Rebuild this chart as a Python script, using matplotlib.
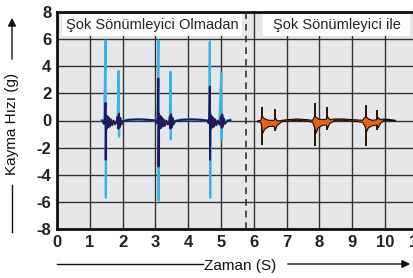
import matplotlib
matplotlib.use("Agg")
import matplotlib.pyplot as plt
from matplotlib.patches import Rectangle

FONT = ['Liberation Sans', 'DejaVu Sans']
plt.rcParams['font.family'] = FONT

# ---- data ----
x_ticks = [0, 1, 2, 3, 4, 5, 6, 7, 8, 9, 10, 11]
y_ticks = [-8, -6, -4, -2, 0, 2, 4, 6, 8]
panel_labels = ["Şok Sönümleyici Olmadan", "Şok Sönümleyici ile"]
x_label = "Zaman (S)"
y_label = "Kayma Hızı (g)"
divider_x = 5.76

# without shock absorber: light blue trace
light_t = [1.35, 1.44, 1.48, 1.49, 1.50, 1.60, 1.70, 1.85, 1.88, 1.89, 1.90, 2.10, 2.40, 2.80,
           3.00, 3.06, 3.09, 3.10, 3.11, 3.20, 3.35, 3.44, 3.46, 3.47, 3.48, 3.70, 4.00, 4.40,
           4.60, 4.64, 4.66, 4.67, 4.68, 4.80, 4.95, 5.01, 5.02, 5.03, 5.15, 5.30]
light_v = [0.0, -0.1, 5.9, -5.7, -0.3, -0.2, -0.15, -0.1, 3.65, -1.2, -0.1, 0.05, 0.1, 0.05,
           0.0, -0.1, 5.9, -5.9, -0.3, -0.25, -0.2, -0.1, 3.6, -1.4, -0.1, 0.05, 0.1, 0.05,
           0.0, -0.1, 5.8, -5.7, -0.3, -0.2, -0.15, 3.5, -1.4, -0.1, 0.0, 0.05]

# without shock absorber: dark navy trace
navy_t = [1.38, 1.43, 1.46, 1.48, 1.485, 1.50, 1.52, 1.54, 1.56, 1.58, 1.61, 1.64, 1.68, 1.72,
          1.77, 1.82, 1.85, 1.87, 1.89, 1.91, 1.93, 1.96, 2.00, 2.20, 2.50, 2.80,
          3.00, 3.04, 3.07, 3.09, 3.095, 3.11, 3.13, 3.15, 3.17, 3.19, 3.22, 3.25, 3.29, 3.33,
          3.38, 3.42, 3.44, 3.46, 3.48, 3.50, 3.52, 3.55, 3.60, 3.80, 4.10, 4.40,
          4.58, 4.62, 4.64, 4.66, 4.665, 4.68, 4.70, 4.72, 4.74, 4.76, 4.79, 4.82, 4.86, 4.90,
          4.95, 4.98, 5.00, 5.02, 5.04, 5.06, 5.08, 5.12, 5.20, 5.28]
navy_v = [0.0, -0.25, 0.15, 1.3, -2.9, 0.4, -0.6, 0.3, -0.5, 0.2, -0.45, 0.1, -0.35, 0.0,
          -0.3, -0.05, 0.3, -0.6, 0.5, -0.5, 0.2, -0.3, -0.05, 0.05, 0.08, 0.05,
          0.0, -0.2, 0.2, 3.1, -3.4, 0.5, -0.6, 0.35, -0.55, 0.25, -0.45, 0.1, -0.4, 0.0,
          -0.3, -0.05, 0.3, -0.6, 0.45, -0.5, 0.2, -0.3, -0.05, 0.05, 0.08, 0.05,
          0.0, -0.2, 0.2, 2.5, -2.9, 0.45, -0.6, 0.3, -0.5, 0.2, -0.45, 0.1, -0.35, 0.0,
          -0.3, -0.05, 0.3, -0.55, 0.45, -0.45, 0.15, -0.25, -0.02, 0.02]

# with shock absorber: orange envelope
orange_t = [6.10, 6.20, 6.23, 6.26, 6.32, 6.45, 6.60, 6.65, 6.70, 6.85, 7.00, 7.30, 7.60,
            7.78, 7.84, 7.88, 7.95, 8.10, 8.20, 8.24, 8.30, 8.45, 8.70, 9.00, 9.30,
            9.38, 9.42, 9.48, 9.60, 9.74, 9.78, 9.84, 9.95, 10.10, 10.30]
orange_hi = [0.0, 0.05, 0.35, 0.3, 0.15, 0.05, 0.05, 0.2, 0.0, 0.05, 0.1, 0.15, 0.1,
             0.05, 0.35, 0.3, 0.15, 0.1, 0.15, 0.3, 0.1, 0.15, 0.15, 0.1, 0.05,
             0.3, 0.3, 0.15, 0.05, 0.1, 0.25, 0.1, 0.15, 0.12, 0.05]
orange_lo = [-0.05, -0.1, -0.5, -0.9, -0.6, -0.4, -0.4, -0.6, -0.3, -0.05, 0.0, 0.05, 0.0,
             -0.1, -0.5, -0.9, -0.5, -0.3, -0.3, -0.5, -0.2, 0.05, 0.05, 0.0, -0.1,
             -0.4, -0.8, -0.5, -0.35, -0.3, -0.5, -0.2, 0.05, 0.05, 0.0]
spike_t = [6.25, 6.65, 7.87, 8.22, 9.42, 9.77]
spike_top = [1.0, 0.85, 1.3, 1.0, 1.15, 0.8]
spike_bot = [-1.8, -0.8, -1.9, -0.7, -1.9, -0.7]

# ---- figure ----
W, H = 413, 278
fig = plt.figure(figsize=(W / 100, H / 100), dpi=100)
ax = fig.add_axes([57 / W, 1 - 229 / H, (11 * 32.8) / W, (229 - 12) / H])
ax.set_facecolor('#e6e7e9')
ax.set_xlim(0, 11)
ax.set_ylim(-8, 8)
ax.set_xticks(x_ticks)
ax.set_yticks(y_ticks)
ax.set_xticklabels([str(v) for v in x_ticks])
ax.set_yticklabels([str(v) for v in y_ticks])
ax.tick_params(length=0, labelsize=12, pad=4, colors='#222222')
for lab in ax.get_xticklabels() + ax.get_yticklabels():
    lab.set_fontweight('bold')
ax.grid(True, color='#333333', linewidth=1.0)
ax.set_axisbelow(True)
for side in ['left', 'bottom', 'top']:
    ax.spines[side].set_linewidth(2)
    ax.spines[side].set_color('#111111')
ax.spines['right'].set_visible(False)

# panel label boxes
boxes = [(0.15, 5.64), (6.28, 10.76)]
for (x0, x1), lab in zip(boxes, panel_labels):
    ax.add_patch(Rectangle((x0, 6.23), x1 - x0, 1.62, facecolor='white', edgecolor='none', zorder=3))
    ax.text((x0 + x1) / 2, 7.04, lab, ha='center', va='center', fontsize=10.5, color='#222222', zorder=4)

ax.axvline(divider_x, color='#333333', linewidth=1.2, dashes=(4, 3), zorder=3)

# traces
ax.plot(light_t, light_v, color='#3ab4e6', linewidth=1.6, zorder=4)
ax.plot(navy_t, navy_v, color='#1f1b5e', linewidth=1.4, zorder=5)

ax.vlines(spike_t, spike_bot, spike_top, color='#2a1206', linewidth=1.4, zorder=4)
ax.fill_between(orange_t, orange_lo, orange_hi, facecolor='#e2621c', edgecolor='#1a0a04',
                linewidth=0.8, zorder=5)

# axis labels with arrows
fig.text(12 / W, 1 - 124 / H, y_label, rotation=90, ha='center', va='center', fontsize=11,
         color='#111111')
fig.add_artist(plt.Line2D([12 / W, 12 / W], [1 - 185 / H, 1 - 232 / H], color='#111111', linewidth=1.0))
ax.annotate('', xy=(12 / W, 1 - 15 / H), xytext=(12 / W, 1 - 62 / H), xycoords='figure fraction',
            textcoords='figure fraction',
            arrowprops=dict(arrowstyle='-|>', color='#111111', lw=1.0, mutation_scale=12))

fig.text(240 / W, 1 - 266 / H, x_label, ha='center', va='center', fontsize=11, color='#111111')
fig.add_artist(plt.Line2D([57 / W, 203 / W], [1 - 264 / H, 1 - 264 / H], color='#111111', linewidth=1.0))
ax.annotate('', xy=(413 / W, 1 - 264 / H), xytext=(285 / W, 1 - 264 / H), xycoords='figure fraction',
            textcoords='figure fraction',
            arrowprops=dict(arrowstyle='-|>', color='#111111', lw=1.0, mutation_scale=12))

fig.savefig('out.png', dpi=100)
